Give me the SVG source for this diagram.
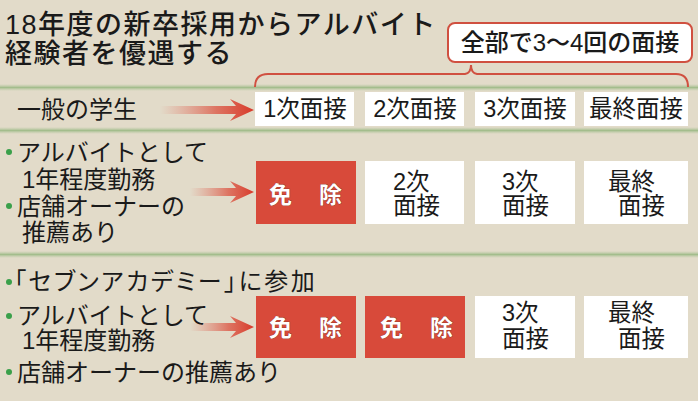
<svg xmlns="http://www.w3.org/2000/svg" width="698" height="401" viewBox="0 0 698 401">
<defs>
<style>
text{font-family:"Liberation Sans","Noto Sans CJK JP",sans-serif;fill:#1a1a1a}
.t{font-size:27px;font-weight:500;letter-spacing:1.5px}
.l{font-size:24px}
.b{font-size:23.5px}
.w{fill:#fff}
.r{fill:#d84a3a}
.m{font-size:23px;font-weight:bold;fill:#fff;stroke:#7a2a20;stroke-width:0.6px;paint-order:stroke}
.c{text-anchor:middle}
.dot{fill:#3aa04a}
</style>
<linearGradient id="band" x1="0" y1="0" x2="0" y2="1">
<stop offset="0" stop-color="#b8c9a2" stop-opacity="0"/>
<stop offset="0.5" stop-color="#a3bd8c"/>
<stop offset="1" stop-color="#b8c9a2" stop-opacity="0"/>
</linearGradient>
<linearGradient id="arr" x1="0" y1="0" x2="1" y2="0">
<stop offset="0" stop-color="#e07060" stop-opacity="0"/>
<stop offset="0.6" stop-color="#dc5a48" stop-opacity="0.8"/>
<stop offset="1" stop-color="#d83a2a"/>
</linearGradient>
</defs>
<rect width="698" height="401" fill="#e2dbc9"/>
<g id="separators">
<rect x="0" y="84" width="698" height="7" fill="url(#band)"/>
<rect x="0" y="127" width="698" height="7" fill="url(#band)"/>
<rect x="0" y="251" width="698" height="7" fill="url(#band)"/>
</g>
<g id="title">
<text class="t" x="5" y="34">18年度の新卒採用からアルバイト</text>
<text class="t" x="5" y="63">経験者を優遇する</text>
</g>
<g id="total-label">
<rect x="448" y="23" width="244" height="39" rx="7" fill="#fff" stroke="#d05040" stroke-width="2"/>
<text x="570" y="51" class="c" style="font-size:24px;font-weight:500">全部で3〜4回の面接</text>
</g>
<g id="connectors">
<path d="M255,87 Q255,74 268,74 L465,74 Q471,73 471,65 Q471,73 477,74 L676,74 Q688,74 688,87" fill="none" stroke="#d05040" stroke-width="2"/>
<path d="M160,106 L236,106 L230,99 L254,110 L230,121 L236,114 L160,114 Z" fill="url(#arr)"/>
<path d="M190,188 L236,188 L230,181 L254,192 L230,203 L236,196 L190,196 Z" fill="url(#arr)"/>
<path d="M190,323 L236,323 L230,316 L254,327 L230,338 L236,331 L190,331 Z" fill="url(#arr)"/>
</g>
<g id="row1-label">
<text class="l" x="17" y="118">一般の学生</text>
</g>
<g id="row1-step1"><rect class="w" x="255" y="92" width="99" height="34"/><text class="b c" x="305" y="117">1次面接</text></g>
<g id="row1-step2"><rect class="w" x="365" y="92" width="99" height="34"/><text class="b c" x="415" y="117">2次面接</text></g>
<g id="row1-step3"><rect class="w" x="475" y="92" width="100" height="34"/><text class="b c" x="525" y="117">3次面接</text></g>
<g id="row1-step4"><rect class="w" x="584" y="92" width="104" height="34"/><text class="b c" x="636" y="117">最終面接</text></g>
<g id="row2-label">
<circle class="dot" cx="9" cy="152" r="3"/>
<text class="l" x="17" y="161">アルバイトとして</text>
<text class="l" x="22" y="188">1年程度勤務</text>
<circle class="dot" cx="9" cy="206" r="3"/>
<text class="l" x="17" y="215">店舗オーナーの</text>
<text class="l" x="22" y="241">推薦あり</text>
</g>
<g id="row2-step1"><rect class="r" x="256" y="161" width="100" height="63"/><text class="m" x="269" y="203">免</text><text class="m" x="319" y="203">除</text></g>
<g id="row2-step2"><rect class="w" x="365" y="161" width="99" height="63"/><text class="b" x="393" y="190">2次</text><text class="b" x="393" y="214">面接</text></g>
<g id="row2-step3"><rect class="w" x="475" y="161" width="100" height="63"/><text class="b" x="502" y="190">3次</text><text class="b" x="502" y="214">面接</text></g>
<g id="row2-step4"><rect class="w" x="584" y="161" width="104" height="63"/><text class="b" x="608" y="190">最終</text><text class="b" x="618" y="214">面接</text></g>
<g id="row3-label">
<circle class="dot" cx="9" cy="282" r="3"/>
<text class="l" x="14" y="290" style="font-feature-settings:'palt';letter-spacing:2.5px">「セブンアカデミー」に参加</text>
<circle class="dot" cx="9" cy="316" r="3"/>
<text class="l" x="17" y="324">アルバイトとして</text>
<text class="l" x="22" y="349">1年程度勤務</text>
<circle class="dot" cx="9" cy="372" r="3"/>
<text class="l" x="17" y="381">店舗オーナーの推薦あり</text>
</g>
<g id="row3-step1"><rect class="r" x="256" y="296" width="100" height="62"/><text class="m" x="269" y="336">免</text><text class="m" x="319" y="336">除</text></g>
<g id="row3-step2"><rect class="r" x="365" y="296" width="100" height="62"/><text class="m" x="380" y="336">免</text><text class="m" x="430" y="336">除</text></g>
<g id="row3-step3"><rect class="w" x="475" y="296" width="100" height="62"/><text class="b" x="502" y="321">3次</text><text class="b" x="502" y="347">面接</text></g>
<g id="row3-step4"><rect class="w" x="584" y="296" width="104" height="62"/><text class="b" x="608" y="321">最終</text><text class="b" x="618" y="347">面接</text></g>
</svg>
